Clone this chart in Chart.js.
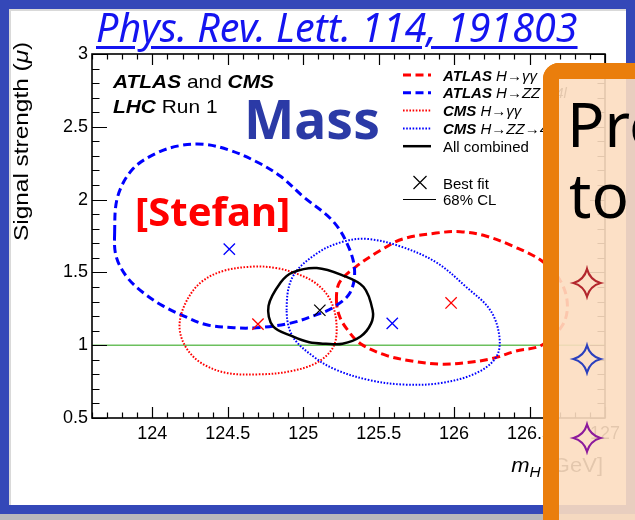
<!DOCTYPE html>
<html>
<head>
<meta charset="utf-8">
<title>Mass</title>
<script src="https://cdn.jsdelivr.net/npm/chart.js@4.4.1/dist/chart.umd.min.js"></script>
<style>
  html, body { margin: 0; padding: 0; }
  body { width: 635px; height: 520px; overflow: hidden; position: relative; background: rgb(52,72,184); }
  #panel { position: absolute; left: 9px; top: 9px; width: 617px; height: 496px; background: #fff; box-shadow: inset 2px 2px 0 #d9d9d9; }
  #shade { position: absolute; left: 0; top: 514px; width: 635px; height: 6px; background: #b8b8bc; }
  #plot { position: absolute; left: 0; top: 0; width: 635px; height: 520px; }
  .txt { position: absolute; white-space: nowrap; transform-origin: 0 0; line-height: 1; font-family: "Noto Sans", sans-serif; }
  #ref { left: 96px; top: 7px; font-size: 40px; font-style: italic; color: #1414f0; text-decoration: underline; text-decoration-thickness: 3px; text-underline-offset: 4px; }
  #mass { left: 244px; top: 92px; font-size: 53px; font-weight: bold; color: #2b3aa6; }
  #stefan { left: 135px; top: 191px; font-size: 40px; font-weight: bold; color: #ff0000; }
  #box { position: absolute; left: 543px; top: 63px; width: 120px; height: 480px; border-left: 16px solid #ea7e0c; border-top: 16px solid #ea7e0c; border-top-left-radius: 16px; background: rgba(252,221,192,0.9); }
  #pr { left: 567px; top: 92px; font-size: 62px; color: #000; }
  #to { left: 569px; top: 163px; font-size: 62px; color: #000; }
  #stars { position: absolute; left: 0; top: 0; }
</style>
</head>
<body>
<div id="panel"></div>
<div id="shade"></div>
<div id="plot"><canvas id="massChart"></canvas></div>
<div class="txt" id="ref">Phys. Rev. Lett. 114, 191803</div>
<div class="txt" id="mass">Mass</div>
<div class="txt" id="stefan">[Stefan]</div>
<div id="box"></div>
<div class="txt" id="pr">Pre</div>
<div class="txt" id="to">to</div>
<svg id="stars" width="635" height="520">
  <g fill="none" stroke-width="2.2">
    <path stroke="#b3272d" d="M587 269 Q590 280 600.5 283 Q590 286 587 296.5 Q584 286 573.5 283 Q584 280 587 269 Z"/>
    <path stroke="#2b3fbd" d="M587 345.5 Q590 356 600.5 359 Q590 362 587 372.5 Q584 362 573.5 359 Q584 356 587 345.5 Z"/>
    <path stroke="#8c1a9c" d="M587 424.5 Q590 435 600.5 438 Q590 441 587 451.5 Q584 441 573.5 438 Q584 435 587 424.5 Z"/>
  </g>
</svg>
<script>
// axis ranges and ticks
const xMin = 123.6, xMax = 127;
const yMin = 0.5, yMax = 3;
const xTickValues = [124, 124.5, 125, 125.5, 126, 126.5, 127];
const yTickValues = [0.5, 1, 1.5, 2, 2.5, 3];
const smMu = 1;

// channels: ATLAS gg, ATLAS ZZ, CMS gg, CMS ZZ, combined
const channelExperiments = ['ATLAS', 'ATLAS', 'CMS', 'CMS', ''];
const channelDecays = ['H\u2192\u03b3\u03b3', 'H\u2192ZZ\u21924l', 'H\u2192\u03b3\u03b3', 'H\u2192ZZ\u21924l', 'All combined'];

const bestFitMass = [125.98, 124.51, 124.70, 125.59, 125.11];
const bestFitMu = [1.29, 1.66, 1.145, 1.15, 1.24];

// 68% CL contours
const atlasGgMass = [125.22, 125.24, 125.35, 125.51, 125.66, 125.88, 126.04, 126.21, 126.39, 126.58, 126.70, 126.75, 126.72, 126.58, 126.41, 126.26, 126.08, 125.91, 125.73, 125.55, 125.38, 125.29, 125.24];
const atlasGgMu = [1.31, 1.43, 1.54, 1.65, 1.73, 1.77, 1.78, 1.75, 1.68, 1.58, 1.45, 1.29, 1.14, 1.00, 0.96, 0.91, 0.88, 0.87, 0.89, 0.93, 1.01, 1.11, 1.20];

const atlasZzMass = [123.75, 123.77, 123.87, 124.03, 124.18, 124.34, 124.51, 124.69, 124.85, 125.00, 125.19, 125.29, 125.34, 125.31, 125.20, 125.09, 124.91, 124.69, 124.54, 124.36, 124.21, 124.07, 123.94, 123.83, 123.76];
const atlasZzMu = [1.77, 2.02, 2.21, 2.32, 2.37, 2.38, 2.34, 2.26, 2.16, 2.02, 1.86, 1.70, 1.52, 1.36, 1.26, 1.21, 1.15, 1.12, 1.12, 1.14, 1.20, 1.27, 1.36, 1.47, 1.61];

const cmsGgMass = [124.18, 124.22, 124.32, 124.47, 124.67, 124.82, 124.96, 125.09, 125.18, 125.22, 125.20, 125.09, 124.91, 124.71, 124.49, 124.32, 124.22];
const cmsGgMu = [1.13, 1.29, 1.43, 1.51, 1.54, 1.53, 1.49, 1.42, 1.31, 1.15, 0.99, 0.88, 0.82, 0.80, 0.81, 0.88, 0.99];

const cmsZzMass = [124.89, 124.93, 125.09, 125.26, 125.42, 125.64, 125.88, 126.08, 126.24, 126.30, 126.28, 126.15, 125.91, 125.66, 125.44, 125.22, 125.07, 124.93];
const cmsZzMu = [1.24, 1.47, 1.63, 1.71, 1.73, 1.68, 1.57, 1.40, 1.24, 1.06, 0.92, 0.81, 0.74, 0.73, 0.76, 0.83, 0.92, 1.06];

const combMass = [124.77, 124.85, 124.93, 125.09, 125.26, 125.40, 125.46, 125.45, 125.38, 125.26, 125.15, 125.04, 124.93, 124.80];
const combMu = [1.27, 1.43, 1.50, 1.53, 1.48, 1.40, 1.24, 1.15, 1.06, 1.01, 1.01, 1.02, 1.06, 1.13];

const contours = [[atlasGgMass, atlasGgMu], [atlasZzMass, atlasZzMu], [cmsGgMass, cmsGgMu], [cmsZzMass, cmsZzMu], [combMass, combMu]];

const styles = [
  {color: '#ff0000', dash: [8, 4.5], width: 3},
  {color: '#0000ff', dash: [8, 4.5], width: 3},
  {color: '#ff0000', dash: [1.6, 1.6], width: 2},
  {color: '#0000ff', dash: [1.6, 1.6], width: 2},
  {color: '#000000', dash: [], width: 2.5}
];

const FONT = '"Liberation Sans", Arial, sans-serif';

// draw a row of differently styled text pieces, optionally stretched
function drawRuns(ctx, x, y, runs, stretch) {
  ctx.save();
  ctx.translate(x, y);
  ctx.scale(stretch || 1, 1);
  let cx = 0;
  runs.forEach(r => {
    ctx.font = r[1];
    ctx.fillText(r[0], cx, r[2] || 0);
    cx += ctx.measureText(r[0]).width;
  });
  ctx.restore();
  return cx * (stretch || 1);
}
function runsWidth(ctx, runs) {
  let w = 0;
  runs.forEach(r => { ctx.font = r[1]; w += ctx.measureText(r[0]).width; });
  return w;
}

const datasets = [];
datasets.push({
  data: [{x: xMin, y: smMu}, {x: xMax, y: smMu}],
  showLine: true, borderColor: '#6cc05e', borderWidth: 1.6, pointRadius: 0, order: 10
});
contours.forEach(([mx, my], i) => {
  datasets.push({
    data: mx.map((m, j) => ({x: m, y: my[j]})),
    showLine: true, closed: true, tension: 0.35,
    borderColor: styles[i].color, borderDash: styles[i].dash, borderWidth: styles[i].width,
    pointRadius: 0, fill: false, order: 5 - i
  });
});
datasets.push({
  data: bestFitMass.map((m, i) => ({x: m, y: bestFitMu[i]})),
  showLine: false, pointStyle: 'crossRot', pointRadius: 8, pointBorderWidth: 1.3,
  pointBorderColor: styles.map(s => s.color), pointBackgroundColor: 'rgba(0,0,0,0)', order: 0
});

// close the contour lines into loops
const closeLoops = {
  id: 'closeLoops',
  afterDatasetsUpdate(chart) {
    chart.data.datasets.forEach((ds, i) => {
      const line = chart.getDatasetMeta(i).dataset;
      if (ds.closed && line) { line._loop = true; line._fullLoop = true; }
    });
  }
};

// ROOT-like frame with inner ticks on all four sides
const framePlugin = {
  id: 'frame',
  afterDatasetsDraw(chart) {
    const {ctx, chartArea: a, scales: {x, y}} = chart;
    ctx.save();
    ctx.strokeStyle = '#000';
    ctx.lineWidth = 1.6;
    ctx.strokeRect(a.left, a.top, a.right - a.left, a.bottom - a.top);
    ctx.lineWidth = 1.2;
    ctx.beginPath();
    for (let k = Math.ceil(xMin * 10); k <= Math.round(xMax * 10); k++) {
      const v = k / 10;
      const len = (k % 5 === 0) ? 11 : 5.5;
      const px = Math.round(x.getPixelForValue(v)) + 0.5;
      ctx.moveTo(px, a.bottom); ctx.lineTo(px, a.bottom - len);
      ctx.moveTo(px, a.top); ctx.lineTo(px, a.top + len);
    }
    for (let k = Math.ceil(yMin * 10); k <= Math.round(yMax * 10); k++) {
      const v = k / 10;
      const len = (k % 5 === 0) ? 15 : 7.5;
      const py = Math.round(y.getPixelForValue(v)) + 0.5;
      ctx.moveTo(a.left, py); ctx.lineTo(a.left + len, py);
      ctx.moveTo(a.right, py); ctx.lineTo(a.right - len, py);
    }
    ctx.stroke();
    ctx.restore();
  },
  afterDraw(chart) {
    const {ctx, chartArea: a} = chart;
    ctx.save();
    ctx.fillStyle = '#000';
    ctx.textBaseline = 'alphabetic';

    // experiment labels
    const bi = 'italic bold 19px ' + FONT, rg = '19px ' + FONT;
    drawRuns(ctx, 113, 88, [['ATLAS', bi], [' and ', rg], ['CMS', bi]], 1.1);
    drawRuns(ctx, 113, 113, [['LHC', bi], [' Run 1', rg]], 1.1);

    // legend
    const lx0 = 403, lx1 = 431, tx = 443;
    for (let i = 0; i < 5; i++) {
      const cy = 75 + i * 17.8;
      ctx.save();
      ctx.strokeStyle = styles[i].color;
      ctx.lineWidth = styles[i].width;
      ctx.setLineDash(styles[i].dash);
      ctx.beginPath(); ctx.moveTo(lx0, cy); ctx.lineTo(lx1, cy); ctx.stroke();
      ctx.restore();
      const runs = channelExperiments[i]
        ? [[channelExperiments[i], 'italic bold 15px ' + FONT], [' ' + channelDecays[i], 'italic 15px ' + FONT]]
        : [[channelDecays[i], '15px ' + FONT]];
      drawRuns(ctx, tx, cy + 5.5, runs, 1);
    }
    ctx.lineWidth = 1.2;
    ctx.strokeStyle = '#000';
    ctx.beginPath();
    ctx.moveTo(413.5, 176); ctx.lineTo(426.5, 189);
    ctx.moveTo(426.5, 176); ctx.lineTo(413.5, 189);
    ctx.moveTo(403, 199.5); ctx.lineTo(436, 199.5);
    ctx.stroke();
    drawRuns(ctx, tx, 188.5, [['Best fit', '15px ' + FONT]], 1);
    drawRuns(ctx, tx, 205, [['68% CL', '15px ' + FONT]], 1);

    // axis titles
    const xt = [['m', 'italic 20px ' + FONT], ['H', 'italic 14px ' + FONT, 5], [' [GeV]', '20px ' + FONT]];
    const xs = 1.1;
    drawRuns(ctx, a.right - 2 - runsWidth(ctx, xt) * xs, 472, xt, xs);

    ctx.translate(28, 241);
    ctx.rotate(-Math.PI / 2);
    drawRuns(ctx, 0, 0, [['Signal strength (', '20px ' + FONT], ['\u03bc', 'italic 20px ' + FONT], [')', '20px ' + FONT]], 1.22);
    ctx.restore();
  }
};

new Chart(document.getElementById('massChart'), {
  type: 'scatter',
  data: {datasets: datasets},
  options: {
    responsive: true,
    maintainAspectRatio: false,
    animation: false,
    events: [],
    layout: {padding: {top: 54, right: 30, left: 0, bottom: 0}, autoPadding: false},
    plugins: {legend: {display: false}, tooltip: {enabled: false}},
    scales: {
      x: {
        type: 'linear', min: xMin, max: xMax,
        afterBuildTicks: s => { s.ticks = xTickValues.map(v => ({value: v})); },
        afterFit: s => { s.height = 102; },
        grid: {display: false, drawTicks: false},
        border: {display: false},
        ticks: {padding: 5, color: '#000', maxRotation: 0, autoSkip: false,
          font: {family: FONT, size: 18}, callback: v => String(v)}
      },
      y: {
        type: 'linear', min: yMin, max: yMax,
        afterBuildTicks: s => { s.ticks = yTickValues.map(v => ({value: v})); },
        afterFit: s => { s.width = 92; },
        grid: {display: false, drawTicks: false},
        border: {display: false},
        ticks: {padding: 4, color: '#000', autoSkip: false,
          font: {family: FONT, size: 18}, callback: v => String(v)}
      }
    }
  },
  plugins: [closeLoops, framePlugin]
});

// squeeze the slide texts to the widths they take on the slide
function fitWidth(id, w) {
  const el = document.getElementById(id);
  el.style.transform = 'scaleX(' + (w / el.offsetWidth) + ')';
}
fitWidth('ref', 482);
fitWidth('mass', 136);
fitWidth('stefan', 155);
</script>
</body>
</html>
